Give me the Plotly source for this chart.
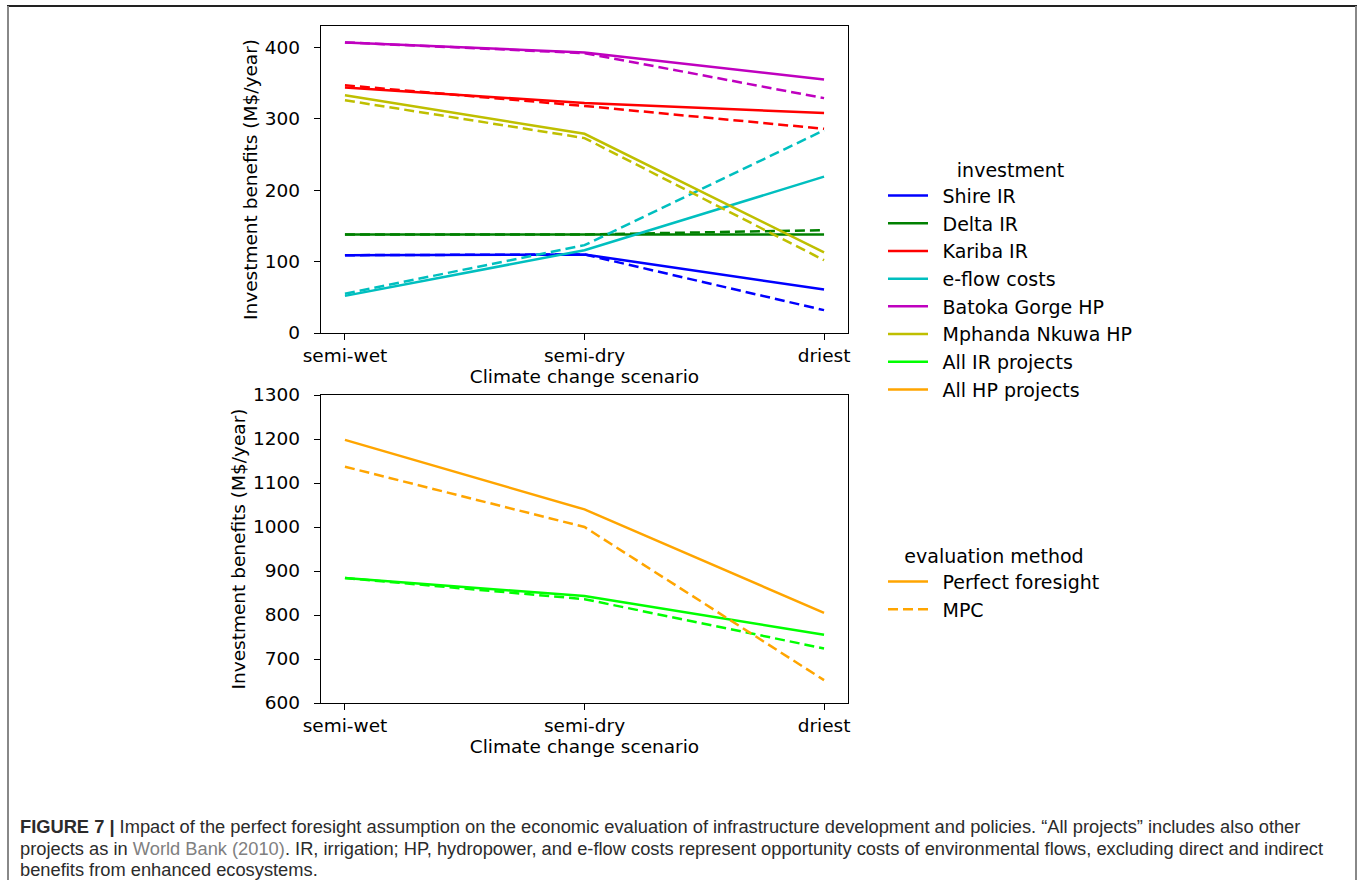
import plotly.graph_objects as go

scenarios = ["semi-wet", "semi-dry", "driest"]

# Top panel: investment benefits (M$/year)
investments = ["Shire IR", "Delta IR", "Kariba IR", "e-flow costs",
               "Batoka Gorge HP", "Mphanda Nkuwa HP"]
colors_top = ["#0000FF", "#008000", "#FF0000", "#00BFBF", "#BF00BF", "#BFBF00"]
pf_top = {
    "Shire IR": [109, 110, 61],
    "Delta IR": [138, 138, 138],
    "Kariba IR": [344, 322, 308],
    "e-flow costs": [52, 116, 219],
    "Batoka Gorge HP": [407, 393, 355],
    "Mphanda Nkuwa HP": [333, 279, 113],
}
mpc_top = {
    "Shire IR": [109, 110, 32],
    "Delta IR": [138, 138, 144],
    "Kariba IR": [347, 318, 286],
    "e-flow costs": [55, 123, 284],
    "Batoka Gorge HP": [407, 392, 329],
    "Mphanda Nkuwa HP": [326, 273, 102],
}

# Bottom panel
groups = ["All IR projects", "All HP projects"]
colors_bottom = ["#00FF00", "#FFA500"]
pf_bottom = {"All IR projects": [884, 843, 755], "All HP projects": [1198, 1040, 805]}
mpc_bottom = {"All IR projects": [884, 836, 724], "All HP projects": [1137, 1000, 652]}

methods = ["Perfect foresight", "MPC"]

W, H = 1365, 880
FONT = "DejaVu Sans"
FS = 18.5
LFS = 19
DASH = "10px,5px"
LW = 2.5
GAP = "\u2002"  # extra gap between legend symbol and label

fig = go.Figure()

for name, col in zip(investments, colors_top):
    fig.add_trace(go.Scatter(x=scenarios, y=pf_top[name], mode="lines",
                             line=dict(color=col, width=LW), name=GAP + name,
                             xaxis="x", yaxis="y", legend="legend", showlegend=True))
    fig.add_trace(go.Scatter(x=scenarios, y=mpc_top[name], mode="lines",
                             line=dict(color=col, width=LW, dash=DASH), name=GAP + name,
                             xaxis="x", yaxis="y", legend="legend", showlegend=False))

for name, col in zip(groups, colors_bottom):
    fig.add_trace(go.Scatter(x=scenarios, y=pf_bottom[name], mode="lines",
                             line=dict(color=col, width=LW), name=GAP + name,
                             xaxis="x2", yaxis="y2", legend="legend", showlegend=True))
    fig.add_trace(go.Scatter(x=scenarios, y=mpc_bottom[name], mode="lines",
                             line=dict(color=col, width=LW, dash=DASH), name=GAP + name,
                             xaxis="x2", yaxis="y2", legend="legend", showlegend=False))

# evaluation method legend (legend2)
fig.add_trace(go.Scatter(x=[None], y=[None], mode="lines", name=GAP + methods[0],
                         line=dict(color="#FFA500", width=LW),
                         xaxis="x2", yaxis="y2", legend="legend2"))
fig.add_trace(go.Scatter(x=[None], y=[None], mode="lines", name=GAP + methods[1],
                         line=dict(color="#FFA500", width=LW, dash=DASH),
                         xaxis="x2", yaxis="y2", legend="legend2"))

def px_x(a, b):
    return [a / W, b / W]

def px_y(top, bottom):
    return [1 - bottom / H, 1 - top / H]

axis_common = dict(showline=True, mirror=True, linecolor="black", linewidth=1.3,
                   ticks="outside", ticklen=6, tickwidth=1.3, tickcolor="black",
                   showgrid=False, zeroline=False, automargin=False,
                   tickfont=dict(family=FONT, size=FS, color="black"))

fig.update_layout(
    width=W, height=H,
    margin=dict(l=0, r=0, t=0, b=0, pad=0, autoexpand=False),
    paper_bgcolor="white", plot_bgcolor="white",
    font=dict(family=FONT, size=FS, color="black"),
    xaxis=dict(domain=px_x(321, 848), anchor="y", type="category",
               range=[-0.1, 2.1],
               title=dict(text="Climate change scenario", standoff=2,
                          font=dict(family=FONT, size=FS)),
               **axis_common),
    yaxis=dict(domain=px_y(26, 333), anchor="x", range=[0, 430],
               tickvals=[0, 100, 200, 300, 400], ticklabelstandoff=10,
               title=dict(text="Investment benefits (M$/year)", standoff=2,
                          font=dict(family=FONT, size=FS)),
               **axis_common),
    xaxis2=dict(domain=px_x(321, 848), anchor="y2", type="category",
                range=[-0.1, 2.1],
                title=dict(text="Climate change scenario", standoff=2,
                           font=dict(family=FONT, size=FS)),
                **axis_common),
    yaxis2=dict(domain=px_y(395, 703), anchor="x2", range=[600, 1300],
                tickvals=[600, 700, 800, 900, 1000, 1100, 1200, 1300],
                ticklabelstandoff=10,
                title=dict(text="Investment benefits (M$/year)", standoff=2,
                           font=dict(family=FONT, size=FS)),
                **axis_common),
    legend=dict(x=883 / W, y=1 - 152 / H, xanchor="left", yanchor="top",
                bgcolor="rgba(0,0,0,0)", font=dict(family=FONT, size=LFS),
                title=dict(text="investment", side="top center",
                           font=dict(family=FONT, size=LFS)),
                tracegroupgap=0, itemwidth=40),
    legend2=dict(x=883 / W, y=1 - 538 / H, xanchor="left", yanchor="top",
                 bgcolor="rgba(0,0,0,0)", font=dict(family=FONT, size=LFS),
                 title=dict(text="evaluation method", side="top center",
                            font=dict(family=FONT, size=LFS)),
                 itemwidth=40),
    showlegend=True,
)

# figure frame
shapes = [
    dict(type="line", xref="paper", yref="paper", x0=7 / W, x1=1357 / W,
         y0=1 - 6 / H, y1=1 - 6 / H, line=dict(color="#222222", width=2)),
    dict(type="line", xref="paper", yref="paper", x0=8 / W, x1=8 / W,
         y0=0, y1=1 - 6 / H, line=dict(color="#888888", width=2)),
    dict(type="line", xref="paper", yref="paper", x0=1356 / W, x1=1356 / W,
         y0=0, y1=1 - 6 / H, line=dict(color="#888888", width=2)),
]
fig.update_layout(shapes=shapes)

CAP_FONT = "Liberation Sans"
CAP_COLOR = "#2B2B2B"
cap_lines = [
    "<b>FIGURE 7 |</b> Impact of the perfect foresight assumption on the economic evaluation of infrastructure development and policies. \u201cAll projects\u201d includes also other",
    "projects as in <span style='color:#808080'>World Bank (2010)</span>. IR, irrigation; HP, hydropower, and e-flow costs represent opportunity costs of environmental flows, excluding direct and indirect",
    "benefits from enhanced ecosystems.",
]
cap_y = [826, 848, 869]
for t, yy in zip(cap_lines, cap_y):
    fig.add_annotation(text=t, xref="paper", yref="paper", x=18 / W, y=1 - yy / H,
                       xanchor="left", yanchor="middle", showarrow=False, align="left",
                       font=dict(family=CAP_FONT, size=18.3, color=CAP_COLOR))

fig.write_html("out.html", config={"displayModeBar": False},
               post_script="document.body.style.margin='0';")
